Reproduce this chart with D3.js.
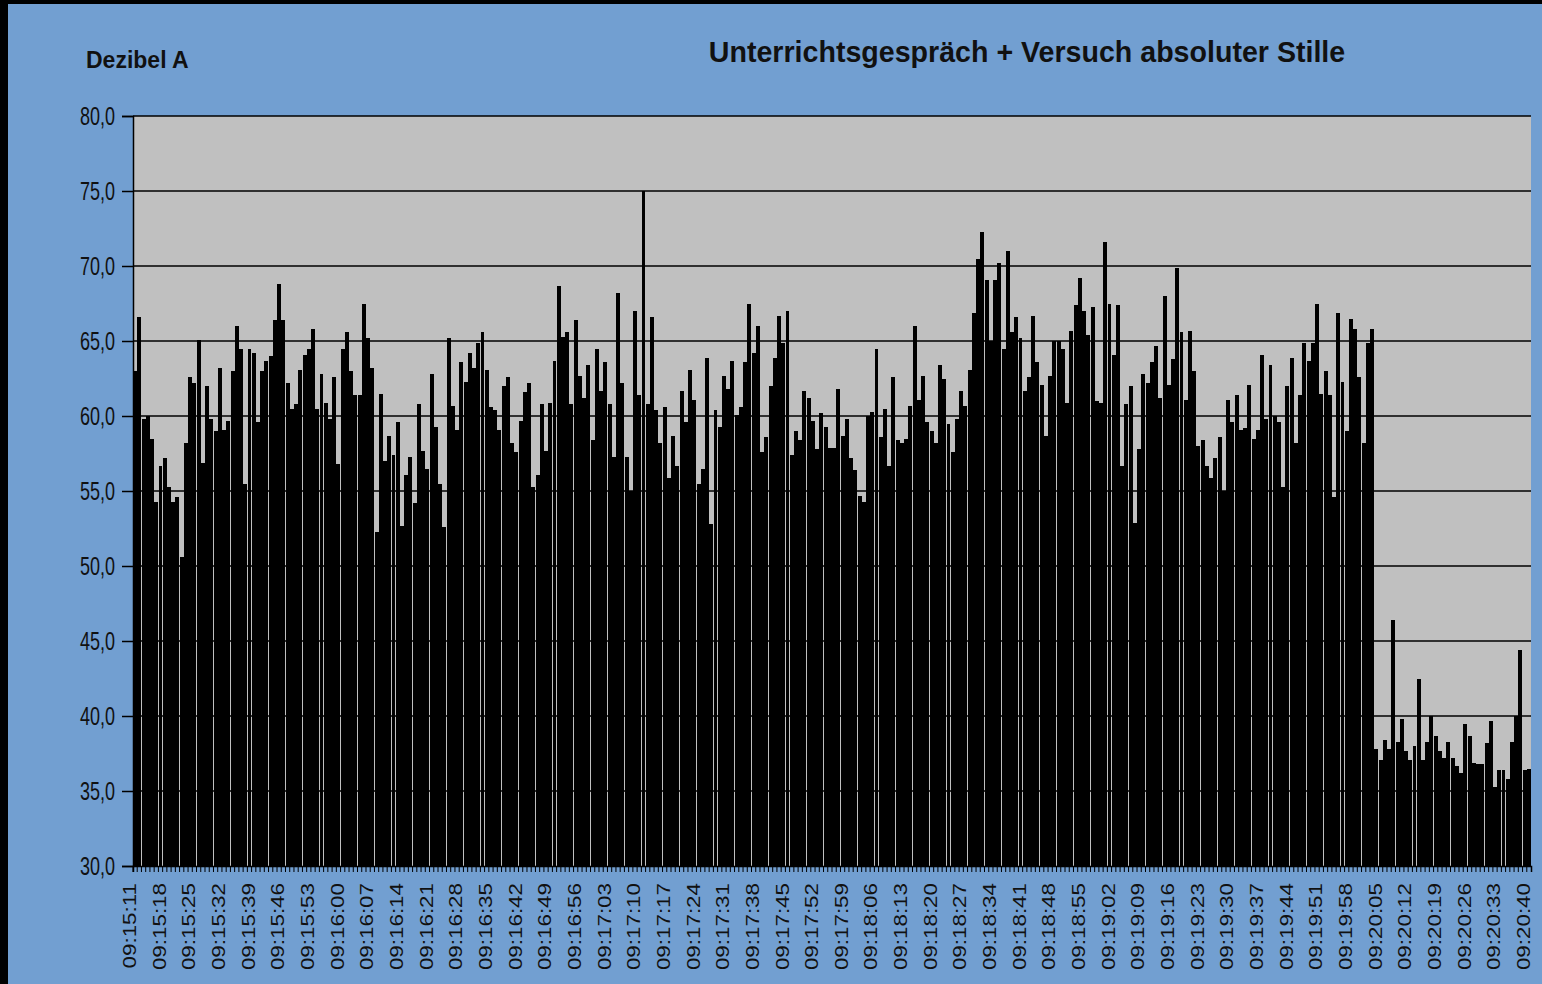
<!DOCTYPE html>
<html>
<head>
<meta charset="utf-8">
<script src="https://cdn.jsdelivr.net/npm/d3@7"></script>
<style>
  html, body { margin: 0; padding: 0; background: #000; }
  svg { display: block; }
  text { font-family: "Liberation Sans", Arial, sans-serif; fill: #111; }
</style>
</head>
<body>
<script>
// sound level, one reading per second from 09:15:11 to 09:20:40
var startTime = "09:15:11";
var levels = [
  // 09:15:11 ...
  63.0, 66.6, 59.8, 60.0, 58.5, 54.3, 56.7, 57.2, 55.3, 54.3, 54.6, 50.6, 58.2, 62.6, 62.2, 65.1,
  56.9, 62.0, 59.8, 59.0, 63.2, 59.1, 59.7, 63.0, 66.0, 64.5, 55.5, 64.5, 64.2, 59.6, 63.0, 63.7,
  64.0, 66.4, 68.8, 66.4, 62.2, 60.5, 60.8, 63.1, 64.1, 64.5, 65.8, 60.5, 62.8, 60.9, 59.8, 62.6,
  56.8, 64.5, 65.6, 63.0, 61.4, 61.4, 67.5, 65.2, 63.2, 52.3, 61.5, 57.0, 58.7, 57.4, 59.6, 52.7, 56.1,
  57.3, 54.2, 60.8, 57.7, 56.5, 62.8, 59.3, 55.5, 52.6, 65.2, 60.7, 59.1, 63.6, 62.3, 64.2, 63.2,
  64.9, 65.6, 63.1, 60.6, 60.4, 59.1, 62.0, 62.6, 58.2, 57.6, 59.7, 61.6, 62.2, 55.3, 56.1,
  60.8, 57.7, 60.9, 63.7, 68.7, 65.3, 65.6, 60.8, 66.4, 62.7, 61.2, 63.4, 58.4, 64.5, 61.7, 63.6,
  60.8, 57.3, 68.2, 62.2, 57.3, 55.0, 67.0, 61.4, 75.0, 60.8, 66.6, 60.4, 58.2, 60.6, 55.9, 58.7, 56.7,
  61.7, 59.6, 63.1, 61.1, 55.5, 56.5, 63.9, 52.8, 60.4, 59.3, 62.7, 61.8, 63.7, 60.1, 60.6, 63.6,
  67.5, 64.2, 66.0, 57.6, 58.6, 62.0, 63.9, 66.7, 64.9, 67.0, 57.4, 59.0, 58.4, 61.7, 61.2, 59.7, 57.8,
  60.2, 59.3, 57.9, 57.9, 61.8, 58.7, 59.8, 57.2, 56.4, 54.7, 54.3, 60.0, 60.3, 64.5, 58.6, 60.5,
  56.7, 62.6, 58.4, 58.2, 58.5, 60.7, 66.0, 61.1, 62.7, 59.6, 59.0, 58.2, 63.4, 62.5, 59.5, 57.6,
  59.8, 61.7, 60.7, 63.1, 66.9, 70.5, 72.3, 69.1, 65.0, 69.1, 70.2, 64.5, 71.0, 65.6, 66.6, 65.2,
  61.7, 62.6, 66.7, 63.6, 62.1, 58.7, 62.7, 65.0, 65.0, 64.5, 60.9, 65.7, 67.4, 69.2, 67.0, 65.4, 67.3,
  61.0, 60.9, 71.6, 67.5, 64.1, 67.4, 56.7, 60.8, 62.0, 52.9, 57.8, 62.8, 62.2, 63.6, 64.7, 61.2,
  68.0, 62.1, 63.8, 69.9, 65.6, 61.1, 65.7, 63.0, 58.0, 58.4, 56.7, 55.9, 57.2, 58.6, 55.0,
  61.1, 59.6, 61.4, 59.1, 59.2, 62.1, 58.5, 59.1, 64.1, 59.8, 63.4, 60.0, 59.6, 55.3, 62.0, 63.9,
  58.2, 61.4, 64.9, 63.7, 64.9, 67.5, 61.5, 63.0, 61.4, 54.6, 66.9, 62.3, 59.0, 66.5, 65.8, 62.6,
  58.2, 64.9, 65.8,
  // silence attempt from 09:20:04
  37.8, 37.1, 38.4, 37.8, 46.4, 38.3, 39.8, 37.7, 37.1, 38.0, 42.5, 37.1, 38.3, 40.0, 38.7, 37.7,
  37.2, 38.3, 37.2, 36.7, 36.2, 39.5, 38.7, 36.9, 36.8, 36.8, 38.2, 39.7, 35.3, 36.4, 36.4, 35.8,
  38.3, 40.0, 44.4, 36.4, 36.5
];

var tickLabels = [
  "09:15:11", "09:15:18", "09:15:25", "09:15:32", "09:15:39", "09:15:46", "09:15:53",
  "09:16:00", "09:16:07", "09:16:14", "09:16:21", "09:16:28", "09:16:35", "09:16:42", "09:16:49", "09:16:56",
  "09:17:03", "09:17:10", "09:17:17", "09:17:24", "09:17:31", "09:17:38", "09:17:45", "09:17:52", "09:17:59",
  "09:18:06", "09:18:13", "09:18:20", "09:18:27", "09:18:34", "09:18:41", "09:18:48", "09:18:55",
  "09:19:02", "09:19:09", "09:19:16", "09:19:23", "09:19:30", "09:19:37", "09:19:44", "09:19:51", "09:19:58",
  "09:20:05", "09:20:12", "09:20:19", "09:20:26", "09:20:33", "09:20:40"
];
var yTicks = [30, 35, 40, 45, 50, 55, 60, 65, 70, 75, 80];

var titleText = "Unterrichtsgespräch + Versuch absoluter Stille";
var unitText = "Dezibel A";

// one category per second
function secToStr(s) {
  var h = Math.floor(s / 3600), m = Math.floor(s / 60) % 60, ss = s % 60;
  return [h, m, ss].map(v => String(v).padStart(2, "0")).join(":");
}
var p = startTime.split(":").map(Number);
var t0 = p[0] * 3600 + p[1] * 60 + p[2];
var data = levels.map((v, i) => ({ time: secToStr(t0 + i), value: v }));

var svgWidth = 1542, svgHeight = 984;
var plot = { left: 133, right: 1531, top: 116, bottom: 866 };

var svg = d3.select("body").append("svg")
  .attr("width", svgWidth).attr("height", svgHeight);

// window frame + blue chart area
svg.append("rect").attr("x", 0).attr("y", 0).attr("width", svgWidth).attr("height", svgHeight).attr("fill", "#000");
svg.append("rect").attr("x", 8).attr("y", 4).attr("width", svgWidth).attr("height", svgHeight).attr("fill", "#729fd1");

// plot area
svg.append("rect")
  .attr("x", plot.left).attr("y", plot.top)
  .attr("width", plot.right - plot.left).attr("height", plot.bottom - plot.top)
  .attr("fill", "#c0c0c0");

var xScale = d3.scaleBand()
  .domain(data.map(d => d.time))
  .range([plot.left, plot.right])
  .paddingInner(0.07).paddingOuter(0.03);

var yScale = d3.scaleLinear().domain([30, 80]).range([plot.bottom, plot.top]);

// gridlines
svg.append("g").selectAll("line")
  .data(yTicks.filter(d => d > 30))
  .enter().append("line")
  .attr("x1", plot.left).attr("x2", plot.right)
  .attr("y1", d => yScale(d)).attr("y2", d => yScale(d))
  .attr("stroke", "#000").attr("stroke-width", 1.5);

// bars
svg.append("g").attr("shape-rendering", "crispEdges")
  .selectAll("rect")
  .data(data)
  .enter().append("rect")
  .attr("x", d => xScale(d.time))
  .attr("width", xScale.bandwidth())
  .attr("y", d => yScale(d.value))
  .attr("height", d => yScale(30) - yScale(d.value))
  .attr("fill", "#000");

// y axis
var leftAxis = d3.axisLeft(yScale).tickValues(yTicks).tickSize(11).tickFormat(d => "");
var yAxisG = svg.append("g").attr("transform", `translate(${plot.left},0)`).call(leftAxis);
yAxisG.select(".domain").attr("stroke", "#000").attr("stroke-width", 1.5);
yAxisG.selectAll(".tick line").attr("stroke", "#000").attr("stroke-width", 1.5);

svg.append("g").selectAll("text")
  .data(yTicks)
  .enter().append("text")
  .attr("transform", d => `translate(115,${yScale(d) + 8.5}) scale(1,1.38)`)
  .attr("text-anchor", "end")
  .style("font-size", "18px")
  .text(d => d.toFixed(1).replace(".", ","));

// x axis: a tick per category, label every 7 seconds
var bottomAxis = d3.axisBottom(xScale).tickSize(6).tickFormat(d => "");
var xAxisG = svg.append("g").attr("transform", `translate(0,${plot.bottom})`).call(bottomAxis);
xAxisG.select(".domain").attr("stroke", "#000").attr("stroke-width", 1.5);
xAxisG.selectAll(".tick line").attr("stroke", "#000").attr("stroke-width", 1)
  .attr("transform", `translate(${-xScale.step() / 2},0)`);

svg.append("g").selectAll("text")
  .data(tickLabels)
  .enter().append("text")
  .attr("transform", d => {
    var cx = xScale(d) + xScale.bandwidth() / 2 + 1;
    return `translate(${cx},883) scale(1,1.28) rotate(-90)`;
  })
  .attr("text-anchor", "end")
  .style("font-size", "17.5px")
  .text(d => d);

// titles
svg.append("text")
  .attr("x", 1027).attr("y", 62)
  .attr("text-anchor", "middle")
  .style("font-size", "28.6px").style("font-weight", "bold")
  .text(titleText);

svg.append("text")
  .attr("x", 86).attr("y", 68)
  .style("font-size", "23px").style("font-weight", "bold")
  .text(unitText);
</script>
</body>
</html>
